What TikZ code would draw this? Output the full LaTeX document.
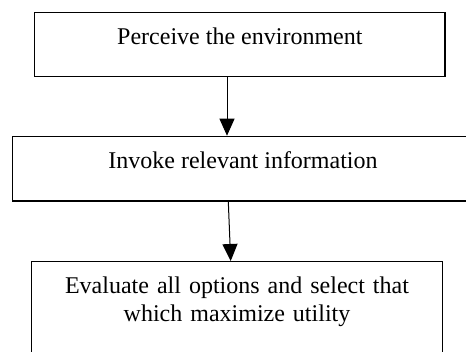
\documentclass[tikz,border=0pt]{standalone}
\usepackage{fontspec}
\setmainfont{Liberation Serif}
\usepackage{tikz}
\usetikzlibrary{positioning}
\usetikzlibrary{arrows.meta,calc}
\usepackage{xcolor}

\begin{document}
\begin{tikzpicture}[x=1pt,y=-1pt,
  box/.style={draw, line width=1.2pt, inner sep=0pt, anchor=north, align=center,
    font=\fontsize{24}{27.5}\selectfont, text height=32.3pt},
  arr/.style={line width=1pt, -{Triangle[width=15pt,length=17pt]}}]

\useasboundingbox (0,0) rectangle (466,351);

\node[box, minimum width=410.3pt, text depth=31.7pt] (perceive) at (239.85,11.7) {Perceive the environment};
\node[box, minimum width=461.4pt, text depth=32.3pt] (invoke) at (243,135.7) {Invoke relevant information};
\node[box, text width=410.6pt, text depth=68pt] (evaluate) at (237,261) {Evaluate all options and select that\\ which maximize utility};

\draw[arr] (perceive.south -| 227,0) -- (invoke.north -| 227,0);
\draw[arr] (invoke.south -| 228.3,0) -- (evaluate.north -| 230.7,0);

\end{tikzpicture}
\end{document}
